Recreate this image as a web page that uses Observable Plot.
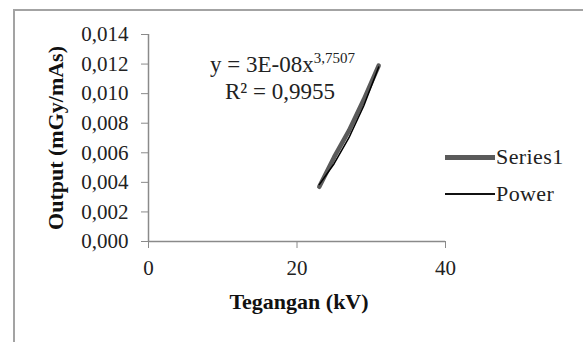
<!DOCTYPE html>
<html>
<head>
<meta charset="utf-8">
<script src="https://cdn.jsdelivr.net/npm/d3@7"></script>
<script src="https://cdn.jsdelivr.net/npm/@observablehq/plot@0.6"></script>
<style>
  html, body { margin: 0; padding: 0; background: #fff; }
  #wrap { position: relative; width: 583px; height: 342px; overflow: hidden; font-family: "Liberation Serif", "Times New Roman", serif; color: #222; }
  #frame { position: absolute; left: 13px; top: 9px; width: 600px; height: 400px; border-left: 2px solid #a3a3a3; border-top: 2px solid #a3a3a3; }
  #chart { position: absolute; left: 0; top: 0; }
  .eq { position: absolute; font-size: 23px; white-space: nowrap; line-height: 1; }
  .eq sup { font-size: 15px; vertical-align: 0; position: relative; top: -9px; }
  .leg { position: absolute; font-size: 22px; letter-spacing: 0.4px; white-space: nowrap; line-height: 1; display: flex; align-items: center; }
  .sw { display: inline-block; width: 50px; margin-right: 1px; }
</style>
</head>
<body>
<div id="wrap">
  <div id="frame"></div>
  <div id="chart"></div>
  <div class="eq" style="left:210px; top:53px;">y = 3E-08x<sup>3,7507</sup></div>
  <div class="eq" style="left:225px; top:80px;">R² = 0,9955</div>
  <div class="leg" style="left:445px; top:146px;"><span class="sw" style="height:5px; background:#5a5a5a;"></span>Series1</div>
  <div class="leg" style="left:445px; top:183px;"><span class="sw" style="height:2px; background:#111;"></span>Power</div>
</div>
<script>
// Data
const kv = [23, 25, 27, 29, 31];
const series1 = [0.0037, 0.0057, 0.0075, 0.0096, 0.0119];
const powerFit = [0.00385, 0.00526, 0.00702, 0.00918, 0.0118];
const xTicks = [0, 20, 40];
const yTicks = [0, 0.002, 0.004, 0.006, 0.008, 0.010, 0.012, 0.014];
const xLabel = "Tegangan (kV)";
const yLabel = "Output (mGy/mAs)";

const s1 = kv.map((x, i) => ({x, y: series1[i]}));
const pw = kv.map((x, i) => ({x, y: powerFit[i]}));

const serif = "Liberation Serif";
const axisGray = "#8a8a8a";
const chart = Plot.plot({
  width: 583, height: 342,
  marginLeft: 148, marginRight: 138, marginTop: 34, marginBottom: 101,
  style: "font-family: 'Liberation Serif', serif; font-size: 21px; color: #222; background: transparent; overflow: visible;",
  x: {domain: [0, 40]},
  y: {domain: [0, 0.014]},
  marks: [
    Plot.ruleX([0], {y1: yTicks[0], y2: yTicks[yTicks.length - 1], stroke: axisGray, strokeWidth: 1.5}),
    Plot.ruleY([0], {x1: xTicks[0], x2: xTicks[xTicks.length - 1], stroke: axisGray, strokeWidth: 1.5}),
    Plot.axisY({ticks: yTicks, tickSize: 7, tickPadding: 13, stroke: axisGray, fill: "#222", label: null,
      tickFormat: d => d.toFixed(3).replace(".", ","), fontSize: 21, fontFamily: serif}),
    Plot.axisX({ticks: xTicks, tickSize: 7, tickPadding: 12, stroke: axisGray, fill: "#222", label: null, fontSize: 21, fontFamily: serif}),
    Plot.line(s1, {x: "x", y: "y", stroke: "#5a5a5a", strokeWidth: 4.5, strokeLinecap: "round"}),
    Plot.line(pw, {x: "x", y: "y", stroke: "#000", strokeWidth: 1.5}),
    Plot.text([yLabel], {frameAnchor: "left", textAnchor: "middle", lineAnchor: "middle", dx: -93, rotate: -90, fontWeight: "bold", fontSize: 22, fill: "#111", fontFamily: serif}),
    Plot.text([xLabel], {frameAnchor: "bottom", textAnchor: "middle", lineAnchor: "middle", dy: 60, dx: 2, fontWeight: "bold", fontSize: 22, fill: "#111", fontFamily: serif})
  ]
});
document.getElementById("chart").appendChild(chart);
</script>
</body>
</html>
